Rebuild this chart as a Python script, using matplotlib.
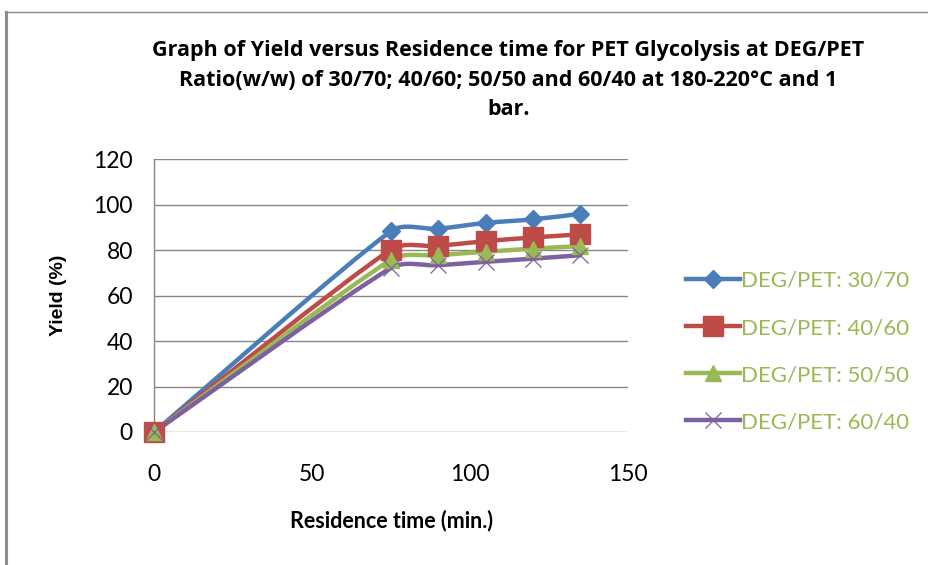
import numpy as np
import matplotlib
matplotlib.use("Agg")
import matplotlib.pyplot as plt
from matplotlib.path import Path
from matplotlib.patches import PathPatch
from matplotlib.lines import Line2D

# residence time (min) and yield (%) per DEG/PET ratio
time_min = [0, 75, 90, 105, 120, 135]
yield_30_70 = [0, 88.4, 89.5, 92.0, 93.6, 96.0]
yield_40_60 = [0, 80.3, 81.9, 84.0, 85.6, 87.0]
yield_50_50 = [0, 75.8, 77.8, 79.3, 80.7, 81.8]
yield_60_40 = [0, 72.2, 73.4, 74.9, 76.3, 77.8]
labels = ["DEG/PET: 30/70", "DEG/PET: 40/60", "DEG/PET: 50/50", "DEG/PET: 60/40"]

series = [yield_30_70, yield_40_60, yield_50_50, yield_60_40]
colors = ["#4A7EBB", "#BE4B48", "#98B954", "#7D60A0"]
markers = ["D", "s", "^", "x"]
msizes = [9.5, 14, 11, 12]

fig = plt.figure(figsize=(9.29, 5.65), dpi=100)
ax = fig.add_axes([0.1661, 0.2354, 0.5096, 0.4826])
ax.set_xlim(0, 150)
ax.set_ylim(0, 120)


def smooth_path(xs, ys):
    # excel-like smoothed line: cubic bezier through the points, built in pixels
    pts = ax.transData.transform(np.column_stack([xs, ys]))
    verts = [pts[0]]
    codes = [Path.MOVETO]
    n = len(pts)
    for i in range(n - 1):
        p0 = pts[i - 1] if i > 0 else pts[i]
        p1, p2 = pts[i], pts[i + 1]
        p3 = pts[i + 2] if i + 2 < n else pts[i + 1]
        seg = np.hypot(*(p2 - p1))
        d1 = (p2 - p0) / 6.0
        d2 = (p3 - p1) / 6.0
        for d in (d1, d2):
            ln = np.hypot(*d)
            if ln > seg / 3.0:
                d *= (seg / 3.0) / ln
        verts += [p1 + d1, p2 - d2, p2]
        codes += [Path.CURVE4] * 3
    verts = ax.transData.inverted().transform(np.array(verts))
    return Path(verts, codes)


for ys, c, m, ms, lab in zip(series, colors, markers, msizes, labels):
    ax.add_patch(PathPatch(smooth_path(time_min, ys), facecolor="none",
                           edgecolor=c, lw=3.2, capstyle="round", zorder=3))
    if m == "x":
        ax.plot(time_min, ys, ls="none", marker=m, ms=ms, color=c, mew=0.9,
                zorder=4, clip_on=False)
    else:
        ax.plot(time_min, ys, ls="none", marker=m, ms=ms, color=c, mec=c,
                zorder=4, clip_on=False)

ax.set_yticks(np.arange(0, 121, 20))
ax.set_xticks(np.arange(0, 151, 50))
ax.grid(axis="y", color="#868686", lw=1.0)
ax.set_axisbelow(True)
for s in ["top", "right", "bottom"]:
    ax.spines[s].set_visible(False)
ax.spines["left"].set_color("#868686")
ax.spines["left"].set_linewidth(1.0)
ax.tick_params(length=0, labelsize=16.5, colors="black")
ax.tick_params(axis="x", pad=23)
ax.tick_params(axis="y", pad=15.5)
for t in ax.get_xticklabels() + ax.get_yticklabels():
    t.set_fontfamily("Lato")

ax.set_xlabel("Residence time (min.)", fontfamily="Lato", fontweight="bold",
              fontsize=15.5, labelpad=18)
ax.set_ylabel("Yield (%)", fontfamily="Liberation Sans", fontweight="bold",
              fontsize=14, labelpad=19)

fig.text(0.547, 0.93,
         "Graph of Yield versus Residence time for PET Glycolysis at DEG/PET\n"
         "Ratio(w/w) of 30/70; 40/60; 50/50 and 60/40 at 180-220\u00b0C and 1\nbar.",
         ha="center", va="top", fontfamily="Open Sans", fontweight="bold",
         fontsize=15.5, linespacing=1.56)

handles = [Line2D([], [], color=c, lw=3.2, marker=m, ms=ms, mew=0.9 if m == "x" else 1.0)
           for c, m, ms in zip(colors, markers, msizes)]
leg = ax.legend(handles, labels, loc="center left", bbox_to_anchor=(1.08, 0.295),
                frameon=False, handlelength=2.43, handletextpad=0.08,
                labelspacing=1.22, prop={"family": "Lato", "size": 16})
for t in leg.get_texts():
    t.set_color("#98B954")

# outer chart frame (left and top edges visible)
fig.add_artist(Line2D([0.0065, 0.0065], [0, 0.979], color="#8C8C8C", lw=2.2,
                      transform=fig.transFigure))
fig.add_artist(Line2D([0.0055, 1.0], [0.978, 0.978], color="#8C8C8C", lw=1.0,
                      transform=fig.transFigure))

fig.savefig("out.png", dpi=100)
